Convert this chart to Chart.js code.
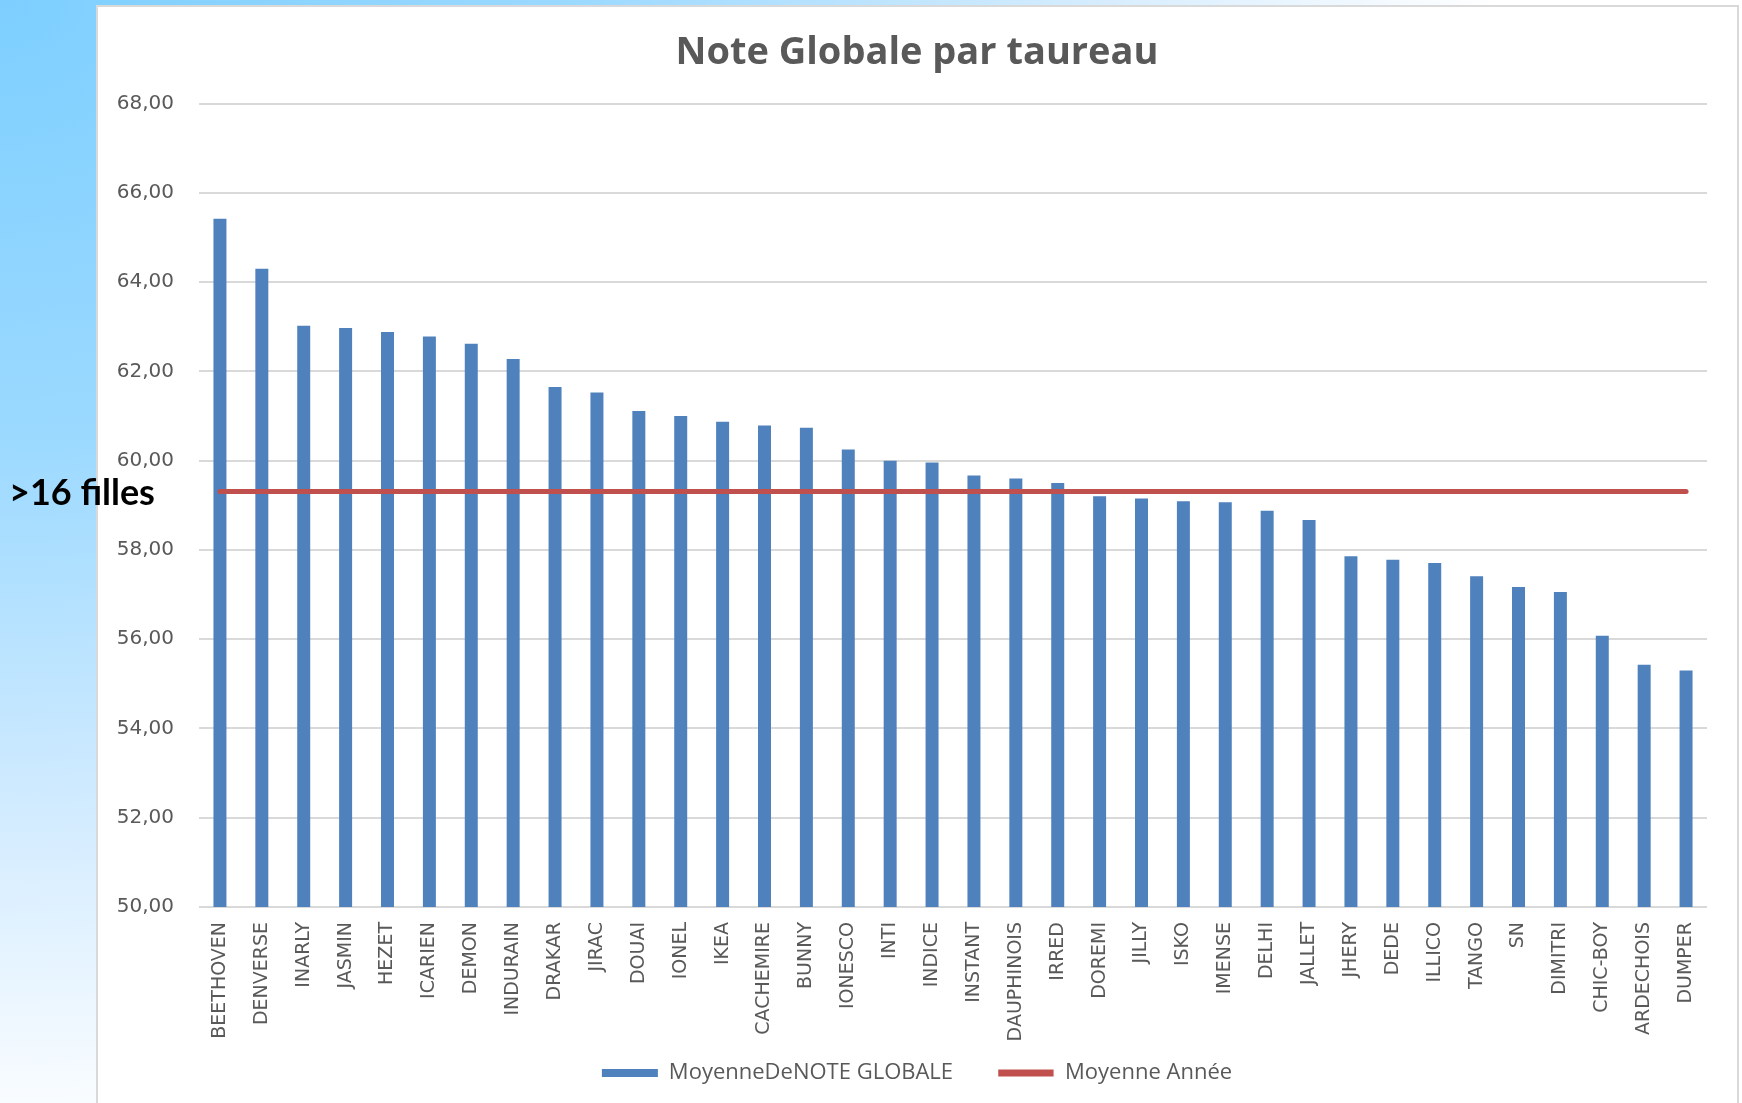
<!DOCTYPE html>
<html>
<head>
<meta charset="utf-8">
<title>Note Globale par taureau</title>
<script src="https://cdn.jsdelivr.net/npm/chart.js@4.4.1/dist/chart.umd.min.js"></script>
<style>
  html, body {
    margin: 0;
    padding: 0;
    width: 1742px;
    height: 1103px;
    overflow: hidden;
  }
  body {
    position: relative;
    background: radial-gradient(ellipse 1500px 1150px at 0 0, #7dcfff 0%, #9bd9ff 38%, #d4ecff 72%, #ffffff 100%);
  }
  #panel {
    position: absolute;
    left: 96px;
    top: 5px;
    width: 1639px;
    height: 1110px;
    background: #ffffff;
    border: 2px solid #d9d9d9;
  }
  #chart {
    position: absolute;
    left: 0;
    top: 0;
  }
  #note {
    position: absolute;
    left: 9px;
    top: 469px;
    font-family: Lato, "DejaVu Sans", sans-serif;
    font-weight: bold;
    font-size: 36px;
    line-height: 44px;
    color: #000000;
    z-index: 2;
  }
</style>
</head>
<body>
<div id="panel"></div>
<canvas id="chart" width="1742" height="1103"></canvas>
<div id="note">&gt;16 filles</div>

<script>
// taureaux, classés par note globale moyenne
const taureaux = [
  "BEETHOVEN", "DENVERSE", "INARLY", "JASMIN", "HEZET", "ICARIEN", "DEMON",
  "INDURAIN", "DRAKAR", "JIRAC", "DOUAI", "IONEL", "IKEA", "CACHEMIRE",
  "BUNNY", "IONESCO", "INTI", "INDICE", "INSTANT", "DAUPHINOIS", "IRRED",
  "DOREMI", "JILLY", "ISKO", "IMENSE", "DELHI", "JALLET", "JHERY", "DEDE",
  "ILLICO", "TANGO", "SN", "DIMITRI", "CHIC-BOY", "ARDECHOIS", "DUMPER"
]

const noteGlobale = [
  65.42, 64.30, 63.02, 62.97, 62.88, 62.78, 62.62,
  62.28, 61.65, 61.53, 61.11, 61.00, 60.87, 60.79,
  60.74, 60.25, 60.00, 59.96, 59.67, 59.60, 59.50,
  59.20, 59.15, 59.09, 59.07, 58.88, 58.67, 57.86, 57.78,
  57.71, 57.41, 57.17, 57.06, 56.08, 55.43, 55.30
]

const moyenneAnnee = [
  59.31, 59.31, 59.31, 59.31, 59.31, 59.31, 59.31,
  59.31, 59.31, 59.31, 59.31, 59.31, 59.31, 59.31,
  59.31, 59.31, 59.31, 59.31, 59.31, 59.31, 59.31,
  59.31, 59.31, 59.31, 59.31, 59.31, 59.31, 59.31, 59.31,
  59.31, 59.31, 59.31, 59.31, 59.31, 59.31, 59.31
]

const yMin = 50
const yMax = 68
const yStep = 2

const grey = "#595959"
const blue = "#4f81bd"
const red = "#c0504d"

// the x labels need a tall axis box (they get clipped to it),
// so the legend is pulled back up under them after layout
const legendLift = {
  id: "legendLift",
  afterLayout(chart) {
    const lg = chart.legend
    lg.top -= 28
    lg.bottom -= 28
  }
}

const ctx = document.getElementById("chart").getContext("2d")

new Chart(ctx, {
  type: "bar",
  data: {
    labels: taureaux,
    datasets: [
      {
        label: "MoyenneDeNOTE GLOBALE",
        data: noteGlobale,
        backgroundColor: blue,
        borderWidth: 0,
        barPercentage: 0.31,
        categoryPercentage: 1,
        order: 1
      },
      {
        type: "line",
        label: "Moyenne Année",
        data: moyenneAnnee,
        borderColor: red,
        backgroundColor: red,
        borderWidth: 5,
        borderCapStyle: "round",
        pointRadius: 0,
        fill: false,
        order: 0
      }
    ]
  },
  plugins: [legendLift],
  options: {
    responsive: false,
    animation: false,
    devicePixelRatio: 1,
    layout: {
      padding: { left: 99, right: 7, top: 0, bottom: -19 }
    },
    scales: {
      x: {
        grid: { display: false, drawTicks: false },
        border: { display: false },
        ticks: {
          autoSkip: false,
          maxRotation: 90,
          minRotation: 90,
          padding: 15,
          color: grey,
          font: { family: "'DejaVu Sans', sans-serif", size: 19 }
        },
        afterFit: scale => { scale.height = 138 }
      },
      y: {
        min: yMin,
        max: yMax,
        grid: { color: "#d9d9d9", lineWidth: 2, drawTicks: false },
        border: { display: false },
        ticks: {
          stepSize: yStep,
          padding: 25,
          color: grey,
          font: { family: "'DejaVu Sans', sans-serif", size: 20 },
          callback: v => v.toFixed(2).replace(".", ",")
        },
        afterFit: scale => { scale.width = 100 }
      },
      // empty right margin so title and legend stay centred on the panel
      y2: {
        position: "right",
        grid: { display: false },
        border: { display: false },
        ticks: { display: false },
        afterFit: scale => { scale.width = 28 }
      }
    },
    plugins: {
      title: {
        display: true,
        text: "Note Globale par taureau",
        color: grey,
        font: { family: "'Open Sans', sans-serif", size: 38, weight: "bold", lineHeight: 1.2 },
        padding: { top: 30, bottom: 28 }
      },
      legend: {
        position: "bottom",
        labels: {
          color: grey,
          boxWidth: 56,
          boxHeight: 8,
          padding: 45,
          font: { family: "'Open Sans', sans-serif", size: 22 },
          sort: (a, b) => a.datasetIndex - b.datasetIndex,
          generateLabels: chart => {
            const items = Chart.defaults.plugins.legend.labels.generateLabels(chart)
            items.forEach(item => {
              if (item.datasetIndex === 1) {
                item.fillStyle = red
                item.strokeStyle = "#ffffff"
                item.lineWidth = 1
              } else {
                item.lineWidth = 0
              }
            })
            return items
          }
        }
      },
      tooltip: { enabled: false }
    }
  }
})
</script>
</body>
</html>
